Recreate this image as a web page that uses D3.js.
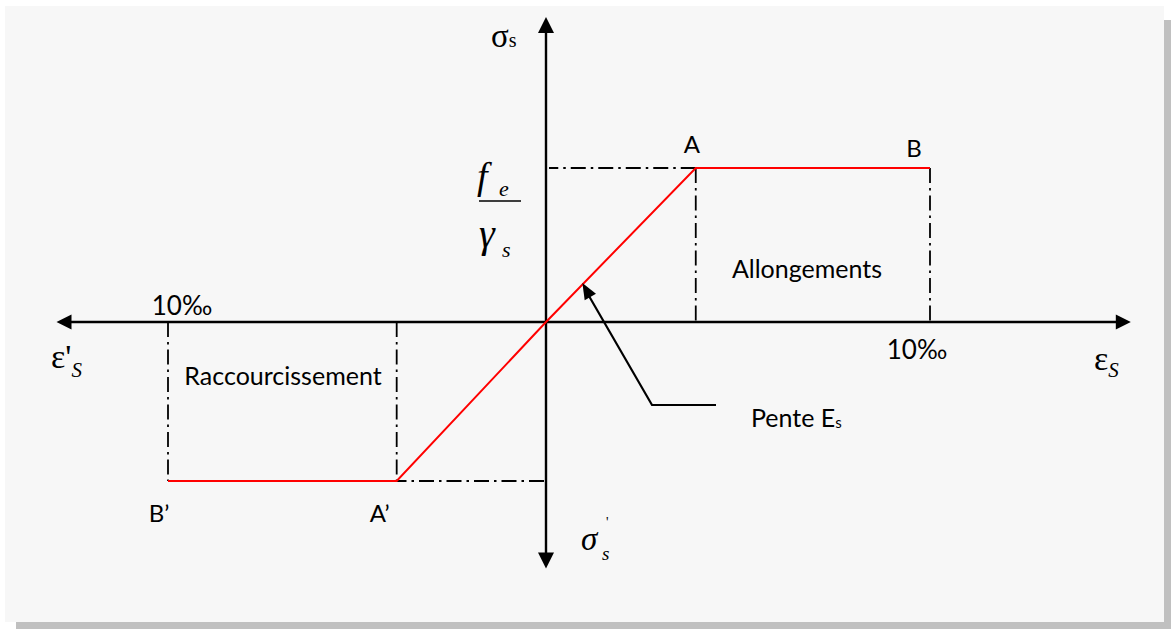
<!DOCTYPE html>
<html>
<head>
<meta charset="utf-8">
<script src="https://cdn.jsdelivr.net/npm/d3@7"></script>
<style>
  html, body { margin: 0; padding: 0; background: #ffffff; }
  svg { display: block; }
</style>
</head>
<body>
<script>
// ---------- data (strain in ‰, stress normalised by fe/γs) ----------
const strainBreaks = [-10, 0, 10];             // ‰ : B', origin, B
const stressBreaks = [-1, 0, 1];               // -fe/γs, 0, fe/γs
const strainAxisExtent = [-12.95, 15.23];      // arrow tips of the ε axis
const stressAxisExtent = [-1.55, 1.98];        // arrow tips of the σ axis
const curveStrain = [-10, -3.95, 0, 3.9, 10];  // B', A', O, A, B
const curveStress = [-1, -1, 0, 1, 1];
const pointLabels = ["B’", "A’", "", "A", "B"];
const limitStrainLabels = ["10‰", "10‰"];

const W = 1171, H = 629;
const svg = d3.select("body").append("svg").attr("width", W).attr("height", H);

// frame + shadow
svg.append("rect").attr("x", 16).attr("y", 20).attr("width", 1155).attr("height", 609).attr("fill", "#c0c0c0");
svg.append("rect").attr("x", 5).attr("y", 6).attr("width", 1159).attr("height", 616).attr("fill", "#f7f7f7");

// scales (piecewise linear)
const x = d3.scaleLinear().domain(strainBreaks).range([168, 546, 930]);
const y = d3.scaleLinear().domain(stressBreaks).range([481, 322, 168]);

const g = svg.append("g");
const dash = "15,5,2.5,5";

function dashLine(x1, y1, x2, y2) {
  g.append("line").attr("x1", x1).attr("y1", y1).attr("x2", x2).attr("y2", y2)
    .attr("stroke", "#000").attr("stroke-width", 1.8).attr("stroke-dasharray", dash);
}
const pts = curveStrain.map((s, i) => ({ s, t: curveStress[i], label: pointLabels[i] }));
const A = pts[3], B = pts[4], Ap = pts[1], Bp = pts[0];

// dash-dot guides
dashLine(x(A.s), y(A.t), x(0) + 3, y(A.t));
dashLine(x(A.s), y(A.t), x(A.s), y(0));
dashLine(x(B.s), y(B.t), x(B.s), y(0));
dashLine(x(Bp.s), y(0), x(Bp.s), y(Bp.t));
dashLine(x(Ap.s), y(0), x(Ap.s), y(Ap.t));
dashLine(x(0) - 2, y(Ap.t), x(Ap.s), y(Ap.t));

// axes
function arrowHead(tx, ty, angle, len, wid) {
  const a = angle * Math.PI / 180;
  const bx = tx - len * Math.cos(a), by = ty - len * Math.sin(a);
  const px = -Math.sin(a) * wid / 2, py = Math.cos(a) * wid / 2;
  g.append("path").attr("d", `M${tx},${ty}L${bx + px},${by + py}L${bx - px},${by - py}Z`).attr("fill", "#000");
}
const x0 = x(0), y0 = y(0);
g.append("line").attr("x1", x(strainAxisExtent[0]) + 10).attr("x2", x(strainAxisExtent[1]) - 10)
  .attr("y1", y0).attr("y2", y0).attr("stroke", "#000").attr("stroke-width", 2.4);
g.append("line").attr("x1", x0).attr("x2", x0)
  .attr("y1", y(stressAxisExtent[1]) + 10).attr("y2", y(stressAxisExtent[0]) - 10)
  .attr("stroke", "#000").attr("stroke-width", 2.4);
arrowHead(x(strainAxisExtent[0]), y0, 180, 15, 15);
arrowHead(x(strainAxisExtent[1]), y0, 0, 15, 15);
arrowHead(x0, y(stressAxisExtent[1]), -90, 16, 16);
arrowHead(x0, y(stressAxisExtent[0]), 90, 16, 16);

// red curve
g.append("path")
  .attr("d", d3.line().x(d => x(d.s)).y(d => y(d.t))(pts))
  .attr("fill", "none").attr("stroke", "#ff0000").attr("stroke-width", 2);

// Pente Es leader
const tipS = 1.0, tipT = 0.24;
const tip = [x(tipS) - 2, y(tipT) - 2];
const knee = [652, 405];
g.append("path").attr("d", `M${knee[0] + 64},${knee[1]}L${knee[0]},${knee[1]}L${tip[0] + 6},${tip[1] + 12}`)
  .attr("fill", "none").attr("stroke", "#000").attr("stroke-width", 2.2);
const ang = Math.atan2(tip[1] - knee[1], tip[0] - knee[0]) * 180 / Math.PI;
arrowHead(tip[0], tip[1], ang, 16, 13);

// ---------- text ----------
const sans = "Lato, 'Open Sans', sans-serif";
const serif = "'Liberation Serif', 'DejaVu Serif', serif";
function txt(tx, ty, str, size, anchor, family, style) {
  return g.append("text").attr("x", tx).attr("y", ty).attr("font-family", family || sans)
    .attr("font-size", size).attr("text-anchor", anchor || "start")
    .attr("font-style", style || "normal").attr("fill", "#000").text(str);
}
// point labels
txt(x(A.s) - 4, 153, A.label, 24, "middle");
txt(x(B.s) - 16, 157, B.label, 24, "middle");
txt(x(Bp.s) - 9, 522, Bp.label, 24, "middle");
txt(x(Ap.s) - 17, 522, Ap.label, 24, "middle");

// zone labels
txt(807, 278, "Allongements", 25, "middle");
txt(283, 385, "Raccourcissement", 25, "middle");
txt(x(-10) + 14, 315, limitStrainLabels[0], 26, "middle");
txt(x(10) - 13, 359, limitStrainLabels[1], 26, "middle");

// Pente Es
const pe = txt(751, 427, "Pente E", 25, "start");
pe.append("tspan").attr("font-size", 15).attr("dy", 1).text("s");

// σs (top)
const st = txt(491, 47, "σ", 33, "start", serif);
st.append("tspan").attr("font-size", 20).text("s");

// σ's (bottom)
txt(581, 550, "σ", 33, "start", serif, "italic");
txt(602, 560, "s", 19, "start", serif, "italic");
txt(606, 527, "'", 14, "start", serif);

// fe / γs
txt(477, 189, "f", 38, "start", serif, "italic");
txt(499, 196, "e", 22, "start", serif, "italic");
g.append("line").attr("x1", 479).attr("x2", 521).attr("y1", 201).attr("y2", 201).attr("stroke", "#000").attr("stroke-width", 1.6);
txt(479, 247, "γ", 40, "start", serif, "italic");
txt(502, 257, "s", 22, "start", serif, "italic");

// ε axes labels
const er = txt(1094, 370, "ε", 34, "start", serif);
er.append("tspan").attr("font-size", 21).attr("dy", 7).attr("font-style", "italic").text("S");
const el = txt(51, 368, "ε'", 34, "start", serif);
el.append("tspan").attr("font-size", 21).attr("dy", 9).attr("font-style", "italic").text("S");
</script>
</body>
</html>
